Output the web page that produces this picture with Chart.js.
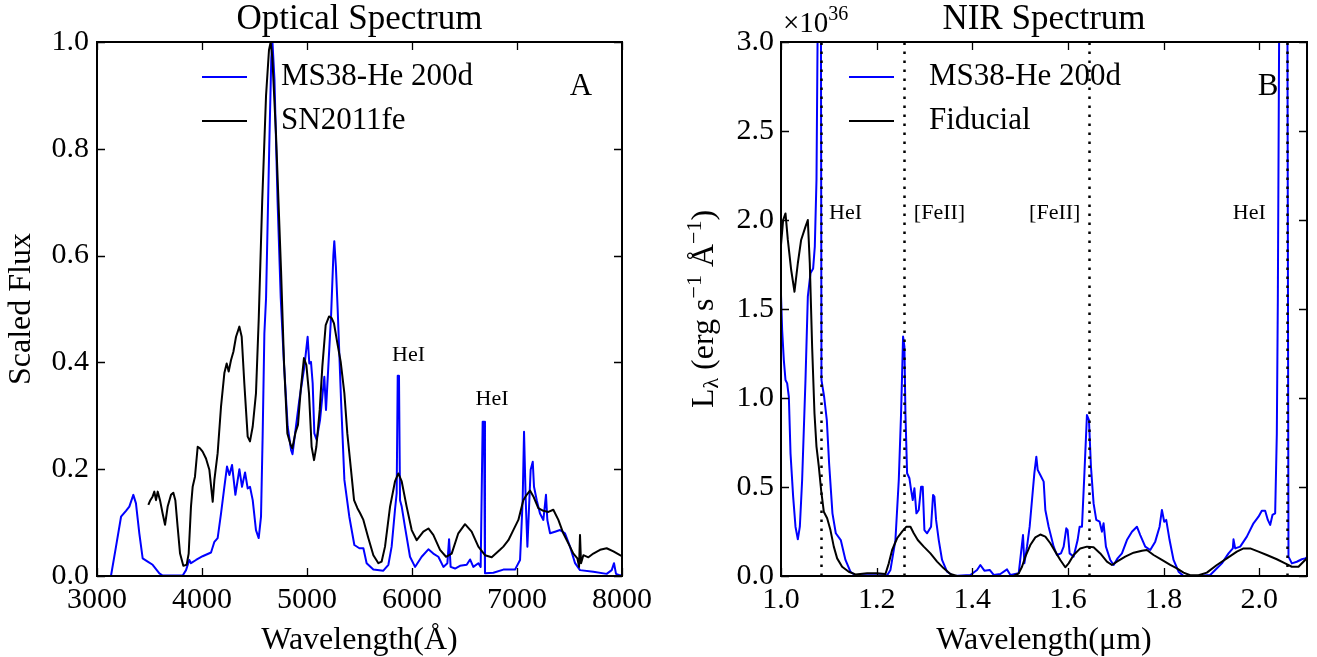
<!DOCTYPE html>
<html><head><meta charset="utf-8">
<script src="https://cdn.jsdelivr.net/npm/chart.js@4.4.1/dist/chart.umd.min.js"></script>
<style>
html,body{margin:0;padding:0;background:#fff;width:1317px;height:657px;overflow:hidden}
canvas{position:absolute;top:0}
#c1{left:0}
#c2{left:660px}
</style></head><body>
<canvas id="c1" width="660" height="657"></canvas>
<canvas id="c2" width="657" height="657"></canvas>
<script>
// ---------- DATA ----------
const optWaveMS38 = [3000,3133,3181,3229,3276,3308,3346,3371,3403,3435,3483,3530,3594,3625,3816,3848,3879,3895,3943,4006,4086,4118,4149,4181,4213,4238,4261,4286,4318,4356,4381,4410,4435,4457,4483,4514,4540,4562,4578,4594,4610,4640,4660,4671,4690,4720,4750,4780,4816,4848,4862,4895,4927,4975,5006,5022,5038,5054,5070,5092,5124,5149,5165,5181,5203,5229,5251,5260,5275,5292,5324,5356,5403,5451,5499,5537,5568,5632,5727,5775,5806,5838,5854,5864,5876,5886,5902,5933,5981,6029,6092,6156,6203,6251,6299,6337,6353,6368,6410,6457,6521,6553,6584,6632,6654,6673,6686,6695,6775,6870,6981,7029,7054,7067,7083,7099,7115,7130,7150,7162,7188,7219,7251,7276,7289,7315,7362,7410,7457,7505,7553,7600,7727,7854,7902,7924,7943,7981,8000];
const optFluxMS38 = [0,0,0.055,0.111,0.122,0.130,0.152,0.136,0.080,0.033,0.027,0.021,0.005,0.001,0.001,0.011,0.030,0.024,0.030,0.037,0.044,0.064,0.071,0.117,0.167,0.205,0.189,0.208,0.152,0.200,0.167,0.194,0.164,0.167,0.142,0.086,0.071,0.111,0.267,0.454,0.52,0.80,0.97,1.0,0.93,0.70,0.52,0.40,0.28,0.236,0.228,0.280,0.330,0.392,0.448,0.398,0.401,0.361,0.267,0.255,0.292,0.342,0.373,0.311,0.392,0.486,0.60,0.627,0.58,0.50,0.330,0.180,0.111,0.058,0.052,0.052,0.024,0.012,0.010,0.021,0.055,0.124,0.155,0.375,0.375,0.142,0.130,0.092,0.036,0.017,0.036,0.050,0.042,0.036,0.017,0.024,0.069,0.017,0.014,0.019,0.021,0.031,0.017,0.024,0.017,0.289,0.289,0.005,0.006,0.012,0.012,0.030,0.142,0.270,0.142,0.055,0.130,0.199,0.214,0.167,0.142,0.117,0.105,0.152,0.105,0.080,0.083,0.086,0.080,0.055,0.024,0.011,0.008,0.004,0.011,0.024,0.004,0.001,0.002];

const optWaveSN = [3489,3508,3530,3546,3562,3578,3600,3625,3648,3673,3705,3727,3746,3768,3791,3822,3854,3873,3895,3911,3933,3959,3981,4006,4038,4070,4102,4118,4149,4181,4213,4235,4254,4276,4299,4324,4356,4378,4403,4435,4457,4483,4514,4540,4573,4610,4638,4654,4670,4705,4753,4781,4813,4845,4860,4876,4892,4914,4940,4971,4994,5019,5044,5067,5089,5121,5146,5178,5210,5235,5257,5289,5321,5356,5384,5416,5448,5480,5505,5537,5584,5632,5680,5711,5743,5791,5838,5870,5902,5949,5997,6045,6108,6156,6203,6267,6324,6378,6441,6505,6568,6632,6695,6759,6838,6870,6918,6965,7013,7060,7092,7124,7156,7203,7251,7299,7346,7394,7441,7489,7537,7575,7591,7600,7610,7632,7680,7727,7791,7854,7918,7981,8000];
const optFluxSN = [0.133,0.142,0.149,0.158,0.142,0.158,0.142,0.117,0.096,0.130,0.152,0.156,0.142,0.092,0.042,0.019,0.021,0.042,0.130,0.167,0.186,0.242,0.239,0.233,0.220,0.199,0.139,0.180,0.230,0.317,0.380,0.398,0.383,0.404,0.420,0.448,0.467,0.448,0.361,0.261,0.252,0.280,0.342,0.48,0.70,0.90,0.985,1.0,0.97,0.826,0.571,0.40,0.267,0.245,0.239,0.255,0.270,0.283,0.348,0.408,0.395,0.342,0.242,0.217,0.242,0.311,0.392,0.470,0.486,0.483,0.473,0.436,0.401,0.342,0.267,0.205,0.142,0.127,0.118,0.105,0.071,0.039,0.024,0.027,0.055,0.130,0.177,0.192,0.177,0.130,0.086,0.067,0.083,0.089,0.077,0.049,0.036,0.042,0.080,0.097,0.083,0.055,0.039,0.035,0.049,0.055,0.067,0.086,0.105,0.142,0.152,0.160,0.149,0.127,0.122,0.120,0.124,0.105,0.080,0.061,0.042,0.033,0.017,0.077,0.024,0.039,0.035,0.042,0.049,0.052,0.046,0.039,0.037];

const nirWaveMS38 = [1.000,1.0024,1.0059,1.0094,1.0129,1.0164,1.0199,1.0254,1.0303,1.0352,1.0394,1.0442,1.0512,1.0561,1.0616,1.0672,1.0707,1.0742,1.0770,1.0800,1.0835,1.0846,1.0902,1.0958,1.1006,1.1076,1.1146,1.1250,1.1348,1.1452,1.1557,1.2220,1.2289,1.2393,1.2463,1.2511,1.2553,1.2581,1.2602,1.2637,1.2686,1.2721,1.2755,1.2790,1.2832,1.2881,1.2930,1.2964,1.2999,1.3055,1.3138,1.3180,1.3208,1.3243,1.3299,1.3368,1.3472,1.3612,1.3960,1.4100,1.4169,1.4253,1.4364,1.4448,1.4587,1.4727,1.4797,1.4971,1.5061,1.5089,1.5145,1.5200,1.5249,1.5298,1.5340,1.5368,1.5423,1.5493,1.5528,1.5597,1.5702,1.5771,1.5855,1.5911,1.5966,1.5994,1.6036,1.6120,1.6203,1.6245,1.6294,1.6342,1.6398,1.6440,1.6482,1.6537,1.6593,1.6663,1.6712,1.6746,1.6795,1.6886,1.6956,1.7039,1.7130,1.7234,1.7339,1.7443,1.7513,1.7617,1.7722,1.7826,1.7917,1.7966,1.8014,1.8056,1.8126,1.8209,1.8314,1.8418,1.8697,1.8976,1.9080,1.9220,1.9359,1.9449,1.9463,1.9498,1.9603,1.9742,1.9881,1.9986,2.0055,2.0125,2.0181,2.0230,2.0278,2.0334,2.0369,2.0390,2.0420,2.0500,2.0590,2.0613,2.0683,2.0787,2.0892,2.0961,2.1000];
const nirLumMS38 = [1.58,1.382,1.213,1.101,1.082,1.007,0.689,0.446,0.277,0.206,0.277,0.539,1.101,1.569,1.700,1.728,1.850,2.225,3.2,5.0,3.2,1.101,1.007,0.876,0.633,0.352,0.240,0.202,0.090,0.024,0.004,0.004,0.034,0.202,0.539,0.914,1.345,1.288,0.914,0.577,0.549,0.483,0.427,0.493,0.352,0.371,0.502,0.502,0.258,0.240,0.277,0.455,0.446,0.315,0.202,0.090,0.024,0.0,0.006,0.034,0.062,0.030,0.034,0.006,0.011,0.037,0.006,0.015,0.230,0.071,0.165,0.277,0.427,0.577,0.670,0.596,0.567,0.530,0.371,0.277,0.165,0.118,0.127,0.165,0.268,0.258,0.127,0.109,0.202,0.277,0.277,0.558,0.904,0.876,0.614,0.408,0.315,0.305,0.249,0.296,0.165,0.090,0.062,0.099,0.127,0.202,0.249,0.277,0.230,0.165,0.146,0.193,0.277,0.371,0.305,0.315,0.202,0.090,0.024,0,0,0.006,0.034,0.071,0.127,0.155,0.206,0.155,0.165,0.221,0.296,0.333,0.367,0.367,0.315,0.287,0.343,0.352,0.801,1.55,3.2,5.0,3.2,0.109,0.071,0.080,0.094,0.099,0.105];

const nirWaveFid = [1.000,1.0045,1.0094,1.0143,1.0213,1.0282,1.0352,1.0421,1.0512,1.0561,1.0602,1.0651,1.0700,1.0742,1.0791,1.0839,1.0895,1.0965,1.1034,1.1104,1.1174,1.1278,1.1417,1.1557,1.1801,1.2010,1.2184,1.2254,1.2324,1.2428,1.2532,1.2623,1.2707,1.2776,1.2860,1.2985,1.3125,1.3264,1.3403,1.3543,1.3682,1.4866,1.4971,1.5040,1.5110,1.5214,1.5319,1.5423,1.5528,1.5632,1.5736,1.5841,1.5945,1.6015,1.6120,1.6259,1.6398,1.6537,1.6677,1.6816,1.6921,1.7025,1.7199,1.7374,1.7548,1.7652,1.7792,1.7966,1.8140,1.8279,1.8418,1.8558,1.8732,1.8906,1.9115,1.9324,1.9533,1.9673,1.9812,1.9986,2.0160,2.0369,2.0543,2.0683,2.0822,2.0961,2.1000];
const nirLumFid = [1.86,2.0,2.037,1.888,1.719,1.597,1.757,1.888,1.963,2.0,1.757,1.288,0.914,0.727,0.614,0.483,0.361,0.324,0.258,0.165,0.099,0.052,0.024,0.009,0.015,0.015,0.011,0.071,0.146,0.212,0.249,0.277,0.277,0.240,0.202,0.165,0.127,0.081,0.043,0.011,0,0,0.015,0.052,0.109,0.174,0.217,0.233,0.221,0.184,0.137,0.090,0.049,0.071,0.118,0.155,0.165,0.161,0.127,0.081,0.062,0.081,0.109,0.131,0.142,0.146,0.118,0.090,0.062,0.043,0.019,0.004,0.004,0.019,0.062,0.099,0.137,0.155,0.155,0.137,0.118,0.094,0.071,0.052,0.052,0.090,0.10];

const optXTicks = [3000,4000,5000,6000,7000,8000];
const optYTicks = [0,0.2,0.4,0.6,0.8,1.0];
const nirXTicks = [1.0,1.2,1.4,1.6,1.8,2.0];
const nirYTicks = [0,0.5,1.0,1.5,2.0,2.5,3.0];
const nirLineWaves = [1.083,1.257,1.644,2.058];
const optLabels = ['HeI','HeI'];
const optLabelX = [5967,6762];
const optLabelY = [0.414,0.331];
const nirLabels = ['HeI','[FeII]','[FeII]','HeI'];
const nirLabelX = [1.135,1.3314,1.5725,1.9792];
const nirLabelY = [2.04,2.04,2.04,2.04];

// ---------- HELPERS ----------
const FONT = "'Liberation Serif','DejaVu Serif',serif";
const BLUE = '#0000ff';
const zip = (xs, ys) => xs.map((x, i) => ({x, y: ys[i]}));

function axisCfg(min, max, tickVals, fmt, fitProp, fitVal, pad) {
  return {
    type: 'linear', min, max,
    afterBuildTicks: s => { s.ticks = tickVals.map(v => ({value: v})); },
    afterFit: s => { s[fitProp] = fitVal; },
    grid: {display: false, drawTicks: false},
    border: {display: false},
    ticks: {font: {family: FONT, size: 30}, color: '#000', padding: pad,
            autoSkip: false, maxRotation: 0, callback: v => fmt(v)}
  };
}

function decorPlugin(o) {
  return {
    id: 'decor',
    afterDatasetsDraw(chart) {
      const ctx = chart.ctx, a = chart.chartArea, xs = chart.scales.x;
      if (o.vlines) {
        ctx.save();
        ctx.strokeStyle = '#000'; ctx.lineWidth = 2.5; ctx.setLineDash([2.5, 6.5]);
        o.vlines.forEach(v => {
          const px = Math.round(xs.getPixelForValue(v)) + 0.5;
          ctx.beginPath(); ctx.moveTo(px, a.bottom); ctx.lineTo(px, a.top); ctx.stroke();
        });
        ctx.restore();
      }
    },
    afterDraw(chart) {
      const ctx = chart.ctx, a = chart.chartArea, xs = chart.scales.x, ys = chart.scales.y;
      ctx.save();
      // frame
      ctx.strokeStyle = '#000'; ctx.lineWidth = 2;
      ctx.strokeRect(a.left, a.top, a.right - a.left, a.bottom - a.top);
      // inward ticks
      ctx.lineWidth = 1.3; const L = 8;
      ctx.beginPath();
      o.xTicks.forEach(v => {
        const px = Math.round(xs.getPixelForValue(v)) + 0.5;
        ctx.moveTo(px, a.bottom); ctx.lineTo(px, a.bottom - L);
        ctx.moveTo(px, a.top); ctx.lineTo(px, a.top + L);
      });
      o.yTicks.forEach(v => {
        const py = Math.round(ys.getPixelForValue(v)) + 0.5;
        ctx.moveTo(a.left, py); ctx.lineTo(a.left + L, py);
        ctx.moveTo(a.right, py); ctx.lineTo(a.right - L, py);
      });
      ctx.stroke();
      ctx.fillStyle = '#000';
      // title
      ctx.font = `35px ${FONT}`; ctx.textAlign = 'center'; ctx.textBaseline = 'alphabetic';
      ctx.fillText(o.title, (a.left + a.right) / 2, 29);
      // x label
      ctx.font = `32px ${FONT}`;
      ctx.fillText(o.xLabel, (a.left + a.right) / 2, 649);
      // y label
      ctx.save();
      ctx.translate(o.yLabelX, (a.top + a.bottom) / 2);
      ctx.rotate(-Math.PI / 2);
      const parts = o.yLabelParts;
      let tot = 0;
      parts.forEach(p => { ctx.font = `${p[1]}px ${FONT}`; tot += ctx.measureText(p[0]).width; });
      let cx = -tot / 2;
      ctx.textAlign = 'left'; ctx.textBaseline = 'middle';
      parts.forEach(p => {
        ctx.font = `${p[1]}px ${FONT}`;
        ctx.fillText(p[0], cx, p[2]);
        cx += ctx.measureText(p[0]).width;
      });
      ctx.restore();
      // legend
      ctx.textAlign = 'left'; ctx.textBaseline = 'middle';
      ctx.font = `31px ${FONT}`;
      o.legend.forEach((it, i) => {
        const y = a.top + 35 + i * 44;
        ctx.strokeStyle = it.color; ctx.lineWidth = 2;
        ctx.beginPath(); ctx.moveTo(a.left + o.legX, y); ctx.lineTo(a.left + o.legX + 45, y); ctx.stroke();
        ctx.fillStyle = '#000';
        ctx.fillText(it.label, a.left + o.legX + o.legTextDx, y);
      });
      // panel letter
      ctx.textAlign = 'center';
      ctx.font = `31px ${FONT}`;
      ctx.fillText(o.letter, a.right - o.letterDx, a.top + 45);
      // line annotations
      ctx.font = `22px ${FONT}`;
      o.notes.forEach(n => {
        ctx.fillText(n.t, xs.getPixelForValue(n.x), ys.getPixelForValue(n.y));
      });
      // offset text
      if (o.offset) {
        ctx.textAlign = 'left'; ctx.textBaseline = 'alphabetic';
        ctx.font = `29px ${FONT}`;
        ctx.fillText('×10', a.left + 2, 32);
        const w = ctx.measureText('×10').width;
        ctx.font = `20px ${FONT}`;
        ctx.fillText('36', a.left + 2 + w, 20);
      }
      ctx.restore();
    }
  };
}

function lineDS(label, data, color, order) {
  return {label, data, borderColor: color, backgroundColor: color, borderWidth: 2,
          pointRadius: 0, tension: 0, fill: false, order, borderJoinStyle: 'round'};
}

// ---------- OPTICAL ----------
new Chart(document.getElementById('c1'), {
  type: 'line',
  data: {datasets: [
    lineDS('MS38-He 200d', zip(optWaveMS38, optFluxMS38), BLUE, 1),
    lineDS('SN2011fe', zip(optWaveSN, optFluxSN), '#000', 0)
  ]},
  options: {
    responsive: false, animation: false, parsing: false,
    layout: {padding: {left: 0, top: 42, right: 38, bottom: 0}},
    plugins: {legend: {display: false}, tooltip: {enabled: false}},
    scales: {
      x: axisCfg(3000, 8000, optXTicks, v => String(v), 'height', 81, 6),
      y: axisCfg(0, 1, optYTicks, v => v.toFixed(1), 'width', 97, 8)
    }
  },
  plugins: [decorPlugin({
    title: 'Optical Spectrum', xLabel: 'Wavelength(Å)', yLabelX: 22,
    yLabelParts: [['Scaled Flux', 32, 0]],
    xTicks: optXTicks, yTicks: optYTicks,
    legend: [{label: 'MS38-He 200d', color: BLUE}, {label: 'SN2011fe', color: '#000'}],
    legX: 105, legTextDx: 79, letter: 'A', letterDx: 41,
    notes: optLabels.map((t, i) => ({t, x: optLabelX[i], y: optLabelY[i]}))
  })]
});

// ---------- NIR ----------
new Chart(document.getElementById('c2'), {
  type: 'line',
  data: {datasets: [
    lineDS('MS38-He 200d', zip(nirWaveMS38, nirLumMS38), BLUE, 1),
    lineDS('Fiducial', zip(nirWaveFid, nirLumFid), '#000', 0)
  ]},
  options: {
    responsive: false, animation: false, parsing: false,
    layout: {padding: {left: 0, top: 42, right: 10, bottom: 0}},
    plugins: {legend: {display: false}, tooltip: {enabled: false}},
    scales: {
      x: axisCfg(1.0, 2.1, nirXTicks, v => v.toFixed(1), 'height', 81, 6),
      y: axisCfg(0, 3, nirYTicks, v => v.toFixed(1), 'width', 121, 7)
    }
  },
  plugins: [decorPlugin({
    title: 'NIR Spectrum', xLabel: 'Wavelength(μm)', yLabelX: 45,
    yLabelParts: [['L', 32, 0], ['λ', 22, 7], [' (erg s', 32, 0], ['−1', 22, -10], [' Å', 32, 0], ['−1', 22, -10], [')', 32, 0]],
    xTicks: nirXTicks, yTicks: nirYTicks,
    legend: [{label: 'MS38-He 200d', color: BLUE}, {label: 'Fiducial', color: '#000'}],
    legX: 68, legTextDx: 80, letter: 'B', letterDx: 39, offset: true,
    vlines: nirLineWaves,
    notes: nirLabels.map((t, i) => ({t, x: nirLabelX[i], y: nirLabelY[i]}))
  })]
});
</script>
</body></html>
